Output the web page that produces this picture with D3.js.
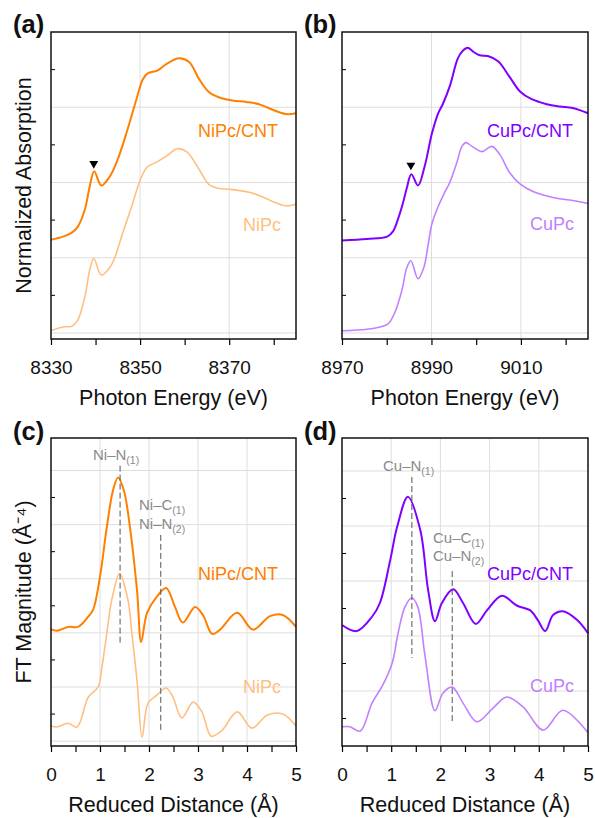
<!DOCTYPE html>
<html>
<head>
<meta charset="utf-8">
<script src="https://cdn.jsdelivr.net/npm/d3@7/dist/d3.min.js"></script>
<style>
  body { margin: 0; background: #fff; }
  svg { font-family: "Liberation Sans", Arial, sans-serif; }
</style>
</head>
<body>
<div id="chart"></div>
<script>
// XANES, Ni K-edge: [photon energy (eV), normalized absorption + offset]
const niPcCntXanes = [[8330,1.24],[8332.7,1.28],[8334.6,1.33],[8336,1.41],[8337.6,1.64],[8338.7,1.95],[8339.7,2.15],
  [8341.3,1.96],[8343.2,2.08],[8345,2.31],[8347,2.67],[8349.2,3.11],[8350.6,3.37],[8351.7,3.45],[8354,3.49],
  [8355.8,3.57],[8358.8,3.65],[8361,3.60],[8363.3,3.37],[8365.5,3.20],[8367.8,3.13],[8370.7,3.09],[8373.8,3.07],
  [8376.7,3.04],[8379.6,2.97],[8382.7,2.91],[8385,2.92]];
const niPcXanes = [[8330,0.03],[8332.7,0.08],[8334.7,0.09],[8336,0.17],[8337.6,0.48],[8338.7,0.84],[8339.6,0.99],
  [8341.3,0.77],[8343.2,0.87],[8344.3,1.00],[8346.1,1.33],[8348.1,1.68],[8349.9,2.01],[8351.5,2.20],[8353.7,2.27],
  [8355.9,2.35],[8358.4,2.45],[8360.6,2.40],[8363.3,2.17],[8365.5,1.97],[8367.8,1.92],[8370,1.91],[8374.5,1.87],
  [8377.4,1.81],[8380.5,1.73],[8382.7,1.69],[8385,1.71]];

// XANES, Cu K-edge
const cuPcCntXanes = [[8970,1.23],[8975.6,1.25],[8980.1,1.28],[8981.4,1.35],[8982.5,1.51],[8983.6,1.72],[8984.5,1.93],
  [8985.5,2.11],[8987,1.96],[8988.5,2.22],[8990.1,2.65],[8991.5,2.92],[8992.6,3.05],[8994.1,3.28],[8995.9,3.65],
  [8997,3.75],[8998.1,3.79],[8999.3,3.74],[9000.8,3.69],[9002.6,3.68],[9004.9,3.61],[9007.5,3.40],[9009.8,3.21],
  [9012.3,3.11],[9015.8,3.04],[9018.7,3.01],[9021.6,2.99],[9025,2.92]];
const cuPcXanes = [[8970,0.03],[8975.6,0.05],[8978.5,0.08],[8980.3,0.12],[8981.8,0.27],[8983.4,0.57],[8984.5,0.87],
  [8985.4,0.96],[8987,0.72],[8988.3,0.87],[8989.2,1.15],[8990.1,1.45],[8991.5,1.68],[8992.8,1.85],[8994.1,2.00],
  [8995.7,2.27],[8996.8,2.48],[8997.7,2.53],[8999.3,2.47],[9001.3,2.41],[9003.5,2.48],[9005.3,2.37],[9007.5,2.13],
  [9009.8,1.98],[9012.7,1.88],[9017.2,1.80],[9021.6,1.76],[9025,1.72]];

// EXAFS FT: [reduced distance (Å), FT magnitude + offset]
const niPcCntFt = [[0,2.07],[0.12,2.04],[0.35,2.11],[0.55,2.11],[0.76,2.30],[0.86,2.43],[1.0,3.04],[1.14,3.96],
  [1.27,4.65],[1.37,4.87],[1.49,4.62],[1.61,3.96],[1.76,2.74],[1.84,1.83],[1.96,2.37],[2.16,2.67],[2.35,2.83],
  [2.53,2.48],[2.69,2.19],[2.94,2.48],[3.10,2.33],[3.29,1.98],[3.45,2.06],[3.80,2.37],[4.12,2.06],[4.47,2.31],
  [4.73,2.33],[5.0,2.11]];
const niPcFt = [[0,0.28],[0.12,0.26],[0.35,0.33],[0.53,0.26],[0.76,0.81],[0.96,1.00],[1.04,1.37],[1.14,2.00],
  [1.24,2.61],[1.40,3.09],[1.57,2.61],[1.65,2.00],[1.76,1.07],[1.86,0.07],[1.98,0.70],[2.16,0.85],[2.35,0.98],
  [2.49,0.81],[2.67,0.43],[2.90,0.72],[3.08,0.54],[3.27,0.09],[3.49,0.20],[3.80,0.54],[4.10,0.24],[4.41,0.48],
  [4.73,0.50],[5.0,0.28]];
const cuPcCntFt = [[0,2.20],[0.30,2.09],[0.61,2.35],[0.77,2.60],[0.98,3.38],[1.12,3.98],[1.34,4.53],[1.59,3.93],
  [1.75,2.84],[1.89,2.27],[2.03,2.60],[2.26,2.85],[2.46,2.60],[2.72,2.22],[2.95,2.47],[3.25,2.73],[3.56,2.55],
  [3.82,2.47],[3.98,2.29],[4.13,2.09],[4.29,2.38],[4.49,2.45],[4.78,2.29],[5.0,2.05]];
const cuPcFt = [[0,0.35],[0.16,0.35],[0.37,0.27],[0.61,0.78],[0.83,1.11],[1.02,1.51],[1.14,2.05],[1.28,2.53],
  [1.42,2.69],[1.54,2.53],[1.69,1.62],[1.89,0.64],[2.05,0.96],[2.24,1.07],[2.46,0.78],[2.74,0.44],[3.07,0.69],
  [3.35,0.89],[3.68,0.71],[4.09,0.29],[4.49,0.65],[5.0,0.24]];

// pre-edge peak markers [x, y]
const niPreEdge = [[8339.6, 2.25]];
const cuPreEdge = [[8985.4, 2.23]];

// bond assignments: dashed line x, from y0 to y1
const niBonds = [[1.41, 5.09, 1.81], [2.24, 3.81, 0.20]];
const cuBonds = [[1.42, 4.89, 1.60], [2.24, 3.18, 0.40]];

const xanesTicks = { ni: [8330, 8350, 8370], cu: [8970, 8990, 9010] };
const ftTicks = [0, 1, 2, 3, 4, 5];

const dark = { ni: "#ff7f00", cu: "#8000ff" };
const light = { ni: "#ffbf80", cu: "#c080ff" };

const svg = d3.select("#chart").append("svg")
    .attr("width", 595)
    .attr("height", 818);

function drawPanel(p) {
    const x = d3.scaleLinear().domain(p.xDomain).range([p.left, p.right]);
    const y = d3.scaleLinear().domain(p.yDomain).range([p.bottom, p.top]);
    const g = svg.append("g");

    // grid
    g.append("g").selectAll("line")
        .data(p.xGrid).join("line")
        .attr("x1", d => x(d)).attr("x2", d => x(d))
        .attr("y1", p.top).attr("y2", p.bottom)
        .attr("stroke", "#dedede").attr("stroke-width", 1);
    g.append("g").selectAll("line")
        .data(p.yGrid).join("line")
        .attr("x1", p.left).attr("x2", p.right)
        .attr("y1", d => y(d)).attr("y2", d => y(d))
        .attr("stroke", "#dedede").attr("stroke-width", 1);

    // minor inward y ticks
    g.append("g").selectAll("line")
        .data(p.yMinor).join("line")
        .attr("x1", p.left).attr("x2", p.left + 4)
        .attr("y1", d => y(d)).attr("y2", d => y(d))
        .attr("stroke", "#000").attr("stroke-width", 1);

    // x axis: minor then major
    const minorAxis = g.append("g")
        .attr("transform", `translate(0,${p.bottom})`)
        .call(d3.axisBottom(x).tickValues(p.xMinor).tickSize(6).tickFormat(""));
    const majorAxis = g.append("g")
        .attr("transform", `translate(0,${p.bottom})`)
        .call(d3.axisBottom(x).tickValues(p.xMajor).tickSize(6).tickPadding(16).tickFormat(d3.format("d")));
    [minorAxis, majorAxis].forEach(a => {
        a.select(".domain").remove();
        a.selectAll("line").attr("stroke", "#000").attr("stroke-width", 1.2);
    });
    majorAxis.selectAll("text")
        .attr("font-size", 19)
        .attr("fill", "#111")
        .attr("font-family", "'Liberation Sans', Arial, sans-serif");

    // series
    const line = d3.line()
        .x(d => x(d[0]))
        .y(d => y(d[1]))
        .curve(d3.curveCatmullRom.alpha(0.5));
    p.series.forEach(s => {
        g.append("path")
            .datum(s.data)
            .attr("fill", "none")
            .attr("stroke", s.color)
            .attr("stroke-width", s.width)
            .attr("stroke-linejoin", "round")
            .attr("d", line);
        g.append("text")
            .attr("x", s.lx).attr("y", s.ly)
            .attr("text-anchor", "end")
            .attr("font-size", 18)
            .attr("fill", s.color)
            .text(s.name);
    });

    // pre-edge triangles
    if (p.marks) {
        g.selectAll(".mark")
            .data(p.marks).join("path")
            .attr("class", "mark")
            .attr("d", d3.symbol(d3.symbolTriangle, 34))
            .attr("transform", d => `translate(${x(d[0])},${y(d[1])}) rotate(180)`)
            .attr("fill", "#000");
    }

    // bond dashed lines + notes
    if (p.bonds) {
        g.selectAll(".bond")
            .data(p.bonds).join("line")
            .attr("class", "bond")
            .attr("x1", d => x(d[0])).attr("x2", d => x(d[0]))
            .attr("y1", d => y(d[1])).attr("y2", d => y(d[2]))
            .attr("stroke", "#555")
            .attr("stroke-width", 1)
            .attr("stroke-dasharray", "6,3");
        p.notes.forEach(n => {
            const t = g.append("text")
                .attr("x", n.x).attr("y", n.y)
                .attr("font-size", 15)
                .attr("fill", "#8a8a8a");
            t.append("tspan").text(n.main);
            t.append("tspan").attr("font-size", 10.5).attr("dy", 4).text(n.sub);
        });
    }

    // frame
    g.append("rect")
        .attr("x", p.left).attr("y", p.top)
        .attr("width", p.right - p.left).attr("height", p.bottom - p.top)
        .attr("fill", "none").attr("stroke", "#111").attr("stroke-width", 1.5);

    // panel label
    g.append("text")
        .attr("x", p.left - 38).attr("y", p.labelY)
        .attr("font-size", 25.5).attr("font-weight", "bold")
        .attr("fill", "#111")
        .text(p.label);

    // x title
    g.append("text")
        .attr("x", (p.left + p.right) / 2).attr("y", p.xTitleY)
        .attr("text-anchor", "middle")
        .attr("font-size", 21.5)
        .attr("fill", "#111")
        .text(p.xTitle);

    // y title
    if (p.yTitle) {
        g.append("text")
            .attr("transform", `translate(31,${(p.top + p.bottom) / 2}) rotate(-90)`)
            .attr("text-anchor", "middle")
            .attr("font-size", 21.5)
            .attr("fill", "#111")
            .text(p.yTitle);
    }
}

const xanesY = { yDomain: [-0.08, 4], yGrid: [0, 1, 2, 3], yMinor: [0.5, 1.5, 2.5, 3.5], top: 32, bottom: 339 };

drawPanel(Object.assign({}, xanesY, {
    left: 51, right: 296, xDomain: [8330, 8385],
    xMajor: xanesTicks.ni, xMinor: [8340, 8360, 8380], xGrid: [8350, 8370],
    label: "(a)", labelY: 33, xTitle: "Photon Energy (eV)", xTitleY: 405,
    yTitle: "Normalized Absorption",
    series: [
        { data: niPcCntXanes, color: dark.ni, width: 2, name: "NiPc/CNT", lx: 278, ly: 137 },
        { data: niPcXanes, color: light.ni, width: 1.6, name: "NiPc", lx: 281, ly: 231 }
    ],
    marks: niPreEdge
}));

drawPanel(Object.assign({}, xanesY, {
    left: 342, right: 588, xDomain: [8970, 9025],
    xMajor: xanesTicks.cu, xMinor: [8980, 9000, 9020], xGrid: [8990, 9010],
    label: "(b)", labelY: 33, xTitle: "Photon Energy (eV)", xTitleY: 405,
    series: [
        { data: cuPcCntXanes, color: dark.cu, width: 2, name: "CuPc/CNT", lx: 573, ly: 137 },
        { data: cuPcXanes, color: light.cu, width: 1.6, name: "CuPc", lx: 574, ly: 230 }
    ],
    marks: cuPreEdge
}));

const ftMinor = d3.range(0.5, 5, 1);

drawPanel({
    left: 51, right: 296, top: 438, bottom: 746,
    xDomain: [0, 5], yDomain: [-0.09, 5.6],
    xMajor: ftTicks, xMinor: ftMinor, xGrid: [1, 2, 3, 4],
    yGrid: [0, 1, 2, 3, 4, 5], yMinor: [0.5, 1.5, 2.5, 3.5, 4.5],
    label: "(c)", labelY: 440, xTitle: "Reduced Distance (Å)", xTitleY: 812,
    yTitle: "FT Magnitude (Å\u207B\u2074)",
    series: [
        { data: niPcCntFt, color: dark.ni, width: 2, name: "NiPc/CNT", lx: 278, ly: 580 },
        { data: niPcFt, color: light.ni, width: 1.6, name: "NiPc", lx: 281, ly: 693 }
    ],
    bonds: niBonds,
    notes: [
        { x: 93, y: 460, main: "Ni\u2013N", sub: "(1)" },
        { x: 139, y: 510, main: "Ni\u2013C", sub: "(1)" },
        { x: 139, y: 529, main: "Ni\u2013N", sub: "(2)" }
    ]
});

drawPanel({
    left: 342, right: 588, top: 438, bottom: 746,
    xDomain: [0, 5], yDomain: [0, 5.6],
    xMajor: ftTicks, xMinor: ftMinor, xGrid: [1, 2, 3, 4],
    yGrid: [1, 2, 3, 4, 5], yMinor: [0.5, 1.5, 2.5, 3.5, 4.5],
    label: "(d)", labelY: 440, xTitle: "Reduced Distance (Å)", xTitleY: 812,
    series: [
        { data: cuPcCntFt, color: dark.cu, width: 2, name: "CuPc/CNT", lx: 573, ly: 580 },
        { data: cuPcFt, color: light.cu, width: 1.6, name: "CuPc", lx: 574, ly: 692 }
    ],
    bonds: cuBonds,
    notes: [
        { x: 383, y: 471, main: "Cu\u2013N", sub: "(1)" },
        { x: 433, y: 543, main: "Cu\u2013C", sub: "(1)" },
        { x: 433, y: 561, main: "Cu\u2013N", sub: "(2)" }
    ]
});
</script>
</body>
</html>
